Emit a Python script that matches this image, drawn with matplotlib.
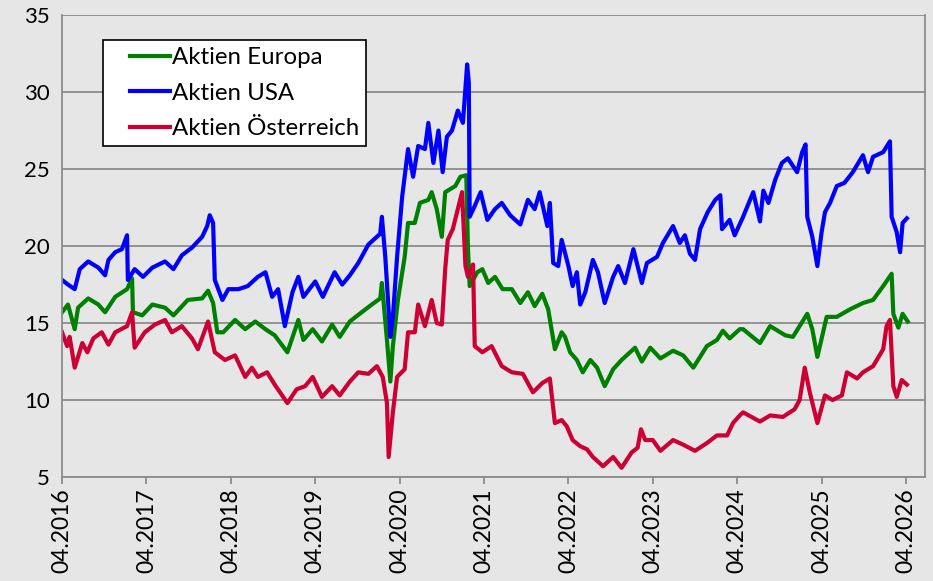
import numpy as np
import matplotlib
matplotlib.use("Agg")
import matplotlib.pyplot as plt
from matplotlib.legend_handler import HandlerLine2D

# decimal years (04.2016 = 2016.25) and values
usa_t = [2016.25, 2016.32, 2016.40, 2016.46, 2016.56, 2016.68, 2016.76, 2016.80, 2016.88, 2016.96,
         2017.02, 2017.03, 2017.11, 2017.21, 2017.32, 2017.47, 2017.57, 2017.67, 2017.79, 2017.91,
         2017.97, 2018.00, 2018.04, 2018.06, 2018.15, 2018.22, 2018.34, 2018.45, 2018.57, 2018.66,
         2018.74, 2018.81, 2018.89, 2018.98, 2019.05, 2019.11, 2019.25, 2019.34, 2019.48, 2019.57,
         2019.66, 2019.76, 2019.88, 2020.02, 2020.04, 2020.08, 2020.14, 2020.17, 2020.22, 2020.28,
         2020.35, 2020.41, 2020.47, 2020.55, 2020.59, 2020.65, 2020.71, 2020.76, 2020.81, 2020.87,
         2020.94, 2021.00, 2021.05, 2021.07, 2021.08, 2021.14, 2021.21, 2021.29, 2021.38, 2021.46,
         2021.56, 2021.68, 2021.77, 2021.85, 2021.91, 2022.00, 2022.03, 2022.07, 2022.13, 2022.17,
         2022.25, 2022.30, 2022.35, 2022.39, 2022.45, 2022.54, 2022.60, 2022.68, 2022.78, 2022.84,
         2022.92, 2023.02, 2023.12, 2023.18, 2023.30, 2023.37, 2023.49, 2023.57, 2023.63, 2023.69,
         2023.75, 2023.81, 2023.90, 2023.99, 2024.05, 2024.07, 2024.16, 2024.22, 2024.32, 2024.44,
         2024.52, 2024.56, 2024.62, 2024.70, 2024.78, 2024.85, 2024.96, 2025.02, 2025.06, 2025.08,
         2025.14, 2025.20, 2025.25, 2025.29, 2025.35, 2025.43, 2025.52, 2025.62, 2025.74, 2025.80,
         2025.86, 2025.98, 2026.06, 2026.08, 2026.14, 2026.18, 2026.21, 2026.26]
usa = [17.8, 17.5, 17.2, 18.5, 19.0, 18.6, 18.1, 19.1, 19.6, 19.8,
       20.7, 17.8, 18.5, 18.0, 18.6, 19.0, 18.5, 19.4, 19.9, 20.6,
       21.3, 22.0, 21.5, 17.8, 16.5, 17.2, 17.2, 17.4, 18.0, 18.3,
       16.7, 17.2, 14.8, 17.0, 18.0, 16.7, 17.7, 16.7, 18.3, 17.5,
       18.1, 18.9, 20.1, 20.8, 21.9, 19.3, 14.1, 15.4, 19.3, 23.2,
       26.3, 24.5, 26.5, 26.3, 28.0, 25.4, 27.5, 24.8, 27.1, 27.5,
       28.8, 28.0, 31.8, 30.6, 21.9, 22.6, 23.5, 21.7, 22.4, 22.8,
       22.0, 21.4, 23.0, 22.4, 23.5, 21.3, 22.8, 18.9, 18.7, 20.4,
       18.7, 17.4, 18.3, 16.2, 17.0, 19.1, 18.3, 16.3, 18.0, 18.7,
       17.6, 19.8, 17.6, 18.9, 19.3, 20.2, 21.3, 20.2, 20.7, 19.5,
       19.1, 21.1, 22.2, 23.0, 23.3, 21.1, 21.7, 20.7, 21.9, 23.5,
       21.6, 23.6, 22.8, 24.3, 25.4, 25.7, 24.8, 26.1, 26.6, 21.9,
       20.6, 18.7, 20.9, 22.2, 22.8, 23.9, 24.1, 24.8, 25.9, 24.8,
       25.8, 26.1, 26.8, 21.9, 20.9, 19.6, 21.5, 21.8]

eu_t = [2016.25, 2016.32, 2016.40, 2016.44, 2016.56, 2016.68, 2016.76, 2016.88, 2017.02, 2017.08,
        2017.09, 2017.20, 2017.32, 2017.47, 2017.57, 2017.74, 2017.91, 2017.98, 2018.04, 2018.09,
        2018.16, 2018.30, 2018.42, 2018.54, 2018.66, 2018.77, 2018.92, 2019.05, 2019.11, 2019.22,
        2019.33, 2019.45, 2019.54, 2019.66, 2019.80, 2019.92, 2020.02, 2020.04, 2020.10, 2020.14,
        2020.17, 2020.23, 2020.31, 2020.35, 2020.43, 2020.49, 2020.59, 2020.63, 2020.69, 2020.75,
        2020.79, 2020.91, 2020.97, 2021.04, 2021.06, 2021.08, 2021.17, 2021.23, 2021.30, 2021.38,
        2021.47, 2021.58, 2021.68, 2021.77, 2021.85, 2021.94, 2022.01, 2022.09, 2022.17, 2022.21,
        2022.27, 2022.35, 2022.42, 2022.51, 2022.59, 2022.68, 2022.78, 2022.88, 2023.04, 2023.12,
        2023.22, 2023.34, 2023.49, 2023.61, 2023.73, 2023.89, 2024.01, 2024.08, 2024.16, 2024.28,
        2024.32, 2024.52, 2024.64, 2024.82, 2024.91, 2025.08, 2025.14, 2025.20, 2025.31, 2025.43,
        2025.59, 2025.74, 2025.86, 2025.98, 2026.08, 2026.10, 2026.16, 2026.21, 2026.27]
eu = [15.7, 16.2, 14.6, 16.0, 16.6, 16.2, 15.7, 16.7, 17.2, 17.9,
      15.7, 15.5, 16.2, 16.0, 15.5, 16.5, 16.6, 17.1, 16.3, 14.4,
      14.4, 15.2, 14.6, 15.1, 14.6, 14.2, 13.1, 15.2, 13.9, 14.6,
      13.8, 14.9, 14.1, 15.1, 15.7, 16.2, 16.6, 17.6, 13.9, 11.2,
      13.5, 16.5, 19.3, 21.5, 21.5, 22.8, 23.0, 23.5, 22.4, 20.6,
      23.5, 23.9, 24.5, 24.6, 19.8, 17.4, 18.3, 18.5, 17.6, 18.0,
      17.2, 17.2, 16.3, 17.0, 16.1, 16.9, 15.9, 13.3, 14.4, 14.1,
      13.1, 12.6, 11.8, 12.6, 12.1, 10.9, 12.0, 12.6, 13.4, 12.5,
      13.4, 12.7, 13.2, 12.9, 12.1, 13.5, 13.9, 14.5, 14.0, 14.6,
      14.6, 13.7, 14.8, 14.2, 14.1, 15.6, 14.6, 12.8, 15.4, 15.4,
      15.9, 16.3, 16.5, 17.4, 18.2, 15.6, 14.7, 15.6, 15.1]

at_t = [2016.25, 2016.31, 2016.34, 2016.40, 2016.49, 2016.55, 2016.62, 2016.72, 2016.80, 2016.88,
        2017.02, 2017.08, 2017.11, 2017.23, 2017.35, 2017.47, 2017.55, 2017.67, 2017.79, 2017.86,
        2017.98, 2018.06, 2018.18, 2018.30, 2018.42, 2018.50, 2018.57, 2018.68, 2018.77, 2018.92,
        2019.03, 2019.13, 2019.22, 2019.33, 2019.45, 2019.54, 2019.66, 2019.76, 2019.88, 2019.98,
        2020.05, 2020.10, 2020.12, 2020.17, 2020.22, 2020.31, 2020.35, 2020.43, 2020.47, 2020.55,
        2020.63, 2020.69, 2020.75, 2020.79, 2020.82, 2020.88, 2020.99, 2021.03, 2021.06, 2021.12,
        2021.14, 2021.23, 2021.34, 2021.46, 2021.58, 2021.71, 2021.83, 2021.94, 2022.03, 2022.09,
        2022.17, 2022.23, 2022.30, 2022.39, 2022.47, 2022.54, 2022.66, 2022.78, 2022.88, 2023.00,
        2023.07, 2023.11, 2023.16, 2023.25, 2023.34, 2023.49, 2023.61, 2023.75, 2023.89, 2024.01,
        2024.13, 2024.20, 2024.28, 2024.32, 2024.52, 2024.64, 2024.79, 2024.93, 2024.99, 2025.05,
        2025.11, 2025.20, 2025.29, 2025.38, 2025.49, 2025.55, 2025.67, 2025.74, 2025.86, 2025.98,
        2026.02, 2026.06, 2026.10, 2026.14, 2026.20, 2026.26]
at = [14.4, 13.5, 14.1, 12.1, 13.7, 13.1, 14.0, 14.4, 13.6, 14.4,
      14.8, 15.7, 13.4, 14.4, 14.9, 15.2, 14.4, 14.8, 14.0, 13.3,
      15.1, 13.1, 12.6, 12.9, 11.5, 12.1, 11.5, 11.8, 11.0, 9.8,
      10.7, 10.9, 11.5, 10.2, 10.9, 10.3, 11.2, 11.8, 11.7, 12.2,
      11.5, 9.8, 6.3, 9.2, 11.5, 12.0, 14.4, 14.4, 16.2, 14.8,
      16.5, 15.0, 14.9, 18.5, 20.4, 21.1, 23.5, 18.7, 18.0, 18.8,
      13.5, 13.1, 13.5, 12.2, 11.8, 11.7, 10.5, 11.1, 11.4, 8.5,
      8.7, 8.3, 7.4, 7.0, 6.8, 6.3, 5.7, 6.3, 5.6, 6.6,
      6.9, 8.1, 7.4, 7.4, 6.7, 7.4, 7.1, 6.7, 7.2, 7.7,
      7.7, 8.5, 9.0, 9.2, 8.6, 9.0, 8.9, 9.4, 10.0, 12.1,
      10.5, 8.5, 10.3, 10.0, 10.3, 11.8, 11.4, 11.8, 12.2, 13.3,
      14.8, 15.2, 10.9, 10.2, 11.3, 11.0]

years = list(range(2016, 2027))
tick_labels = ["04.%d" % y for y in years]

bg = "#e6e6e6"
grid_c = "#8c8c8c"

fig = plt.figure(figsize=(9.33, 5.81), dpi=100, facecolor=bg)
ax = fig.add_axes([0.0665, 0.179, 0.9249, 0.795])
ax.set_facecolor(bg)

ax.plot(eu_t, eu, color="#008000", lw=3.0, label="Aktien Europa", solid_joinstyle="round")
ax.plot(usa_t, usa, color="#0000ff", lw=3.0, label="Aktien USA", solid_joinstyle="round")
ax.plot(at_t, at, color="#cc0033", lw=3.0, label="Aktien Österreich", solid_joinstyle="round")

ax.set_ylim(5, 35)
ax.set_yticks(range(5, 36, 5))
ax.set_xlim(2016.25, 2026.475)
ax.set_xticks([y + 0.25 for y in years])
ax.set_xticklabels(tick_labels, rotation=90, family="Lato", fontsize=16.5)
for lab in ax.get_yticklabels():
    lab.set_family("Lato")
    lab.set_fontsize(16)

ax.grid(axis="y", color=grid_c, lw=1.3)
ax.set_axisbelow(True)
ax.tick_params(axis="y", length=0, pad=9, colors="black")
ax.tick_params(axis="x", length=5, width=1.3, color=grid_c, pad=3)
for s in ["left", "bottom", "right"]:
    ax.spines[s].set_color(grid_c)
    ax.spines[s].set_linewidth(1.3)
ax.spines["top"].set_visible(False)

# legend: handle shifted right inside the box via xpad
leg = ax.legend(loc="upper left", bbox_to_anchor=(0.0475, 0.946), prop={"family": "Lato", "size": 17.3},
                frameon=True, fancybox=False, framealpha=1, edgecolor="black",
                handlelength=2.48, handletextpad=0.08, labelspacing=0.6, borderpad=0.3,
                borderaxespad=0, handler_map={plt.Line2D: HandlerLine2D(xpad=0.82)})
leg.get_frame().set_linewidth(1.2)
leg.get_frame().set_facecolor("white")

plt.savefig("out.png", dpi=100, facecolor=bg)
